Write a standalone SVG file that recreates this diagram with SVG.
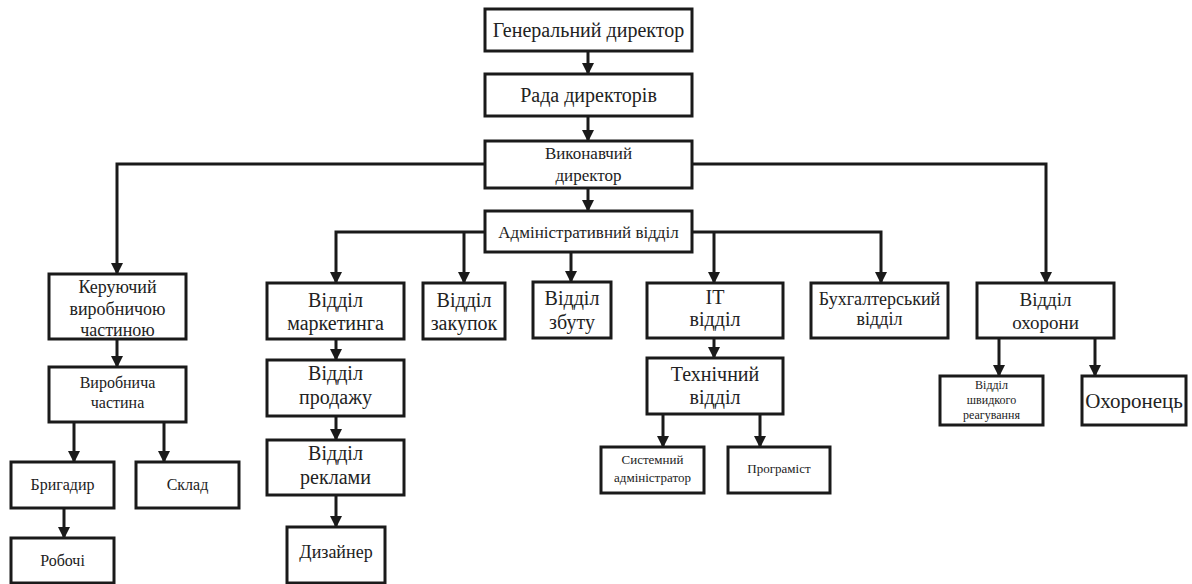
<svg xmlns="http://www.w3.org/2000/svg" width="1192" height="584" viewBox="0 0 1192 584">
<defs>
<style>
.b{fill:#fff;stroke:#1a1a1a;stroke-width:3}
.c{fill:none;stroke:#1a1a1a;stroke-width:3;marker-end:url(#ah)}
text{fill:#222;text-anchor:middle}
</style>
<marker id="ah" markerUnits="userSpaceOnUse" markerWidth="12" markerHeight="14" refX="11" refY="6" orient="auto">
<path d="M0,0 L12,6 L0,12 z" fill="#1a1a1a"/>
</marker>
</defs>
<rect width="1192" height="584" fill="#fff"/>
<g id="connectors">
<path class="c" d="M588,51 V74"/>
<path class="c" d="M588,116 V141"/>
<path class="c" d="M588,188 V211"/>
<path class="c" d="M485,164 H117 V274"/>
<path class="c" d="M692,164 H1046 V283"/>
<path class="c" d="M485,232 H336 V283"/>
<path class="c" d="M464,232 V283"/>
<path class="c" d="M571,252 V282"/>
<path class="c" d="M692,232 H881 V283"/>
<path class="c" d="M714,232 V283"/>
<path class="c" d="M117,339 V367"/>
<path class="c" d="M74,422 V462"/>
<path class="c" d="M164,422 V462"/>
<path class="c" d="M64,508 V538"/>
<path class="c" d="M336,339 V360"/>
<path class="c" d="M336,416 V440"/>
<path class="c" d="M336,495 V527"/>
<path class="c" d="M714,338 V358"/>
<path class="c" d="M663,414 V447"/>
<path class="c" d="M760,414 V447"/>
<path class="c" d="M999,338 V376"/>
<path class="c" d="M1095,338 V376"/>
</g>
<g font-family="Liberation Serif, Tinos, Times New Roman, DejaVu Serif, serif">
<g id="gen"><rect class="b" x="485" y="9" width="207" height="42"/><text x="588.5" y="37" font-size="20">Генеральний директор</text></g>
<g id="rada"><rect class="b" x="485" y="74" width="207" height="42"/><text x="588.5" y="102" font-size="20">Рада директорів</text></g>
<g id="vykon"><rect class="b" x="485" y="141" width="207" height="47"/><text x="588.5" y="159" font-size="17">Виконавчий</text><text x="588.5" y="181" font-size="17">директор</text></g>
<g id="admin"><rect class="b" x="485" y="211" width="207" height="41"/><text x="588.5" y="238" font-size="17">Адміністративний відділ</text></g>
<g id="keruy"><rect class="b" x="49" y="274" width="137" height="65"/><text x="117.5" y="293" font-size="18">Керуючий</text><text x="117.5" y="315" font-size="18">виробничою</text><text x="117.5" y="336" font-size="18">частиною</text></g>
<g id="vyrob"><rect class="b" x="49" y="367" width="137" height="55"/><text x="117.5" y="388" font-size="16">Виробнича</text><text x="117.5" y="408" font-size="16">частина</text></g>
<g id="bryg"><rect class="b" x="11" y="462" width="103" height="46"/><text x="62.5" y="490" font-size="16">Бригадир</text></g>
<g id="sklad"><rect class="b" x="136" y="462" width="103" height="46"/><text x="187.5" y="490" font-size="16">Склад</text></g>
<g id="roboch"><rect class="b" x="11" y="538" width="103" height="45"/><text x="62.5" y="566" font-size="16">Робочі</text></g>
<g id="market"><rect class="b" x="267" y="283" width="137" height="56"/><text x="335.5" y="307" font-size="20">Відділ</text><text x="335.5" y="330" font-size="20">маркетинга</text></g>
<g id="prodazh"><rect class="b" x="267" y="360" width="137" height="56"/><text x="335.5" y="380" font-size="20">Відділ</text><text x="335.5" y="404" font-size="20">продажу</text></g>
<g id="reklama"><rect class="b" x="267" y="440" width="137" height="55"/><text x="335.5" y="460" font-size="20">Відділ</text><text x="335.5" y="484" font-size="20">реклами</text></g>
<g id="dyzain"><rect class="b" x="287" y="527" width="98" height="56"/><text x="336" y="558" font-size="18">Дизайнер</text></g>
<g id="zakup"><rect class="b" x="423" y="283" width="82" height="56"/><text x="464" y="307" font-size="20">Відділ</text><text x="464" y="330" font-size="20">закупок</text></g>
<g id="zbut"><rect class="b" x="533" y="282" width="78" height="56"/><text x="572" y="305" font-size="20">Відділ</text><text x="572" y="329" font-size="20">збуту</text></g>
<g id="it"><rect class="b" x="647" y="283" width="136" height="55"/><text x="715" y="304" font-size="20">IT</text><text x="715" y="326" font-size="20">відділ</text></g>
<g id="buh"><rect class="b" x="811" y="283" width="137" height="55"/><text x="879.5" y="305" font-size="18">Бухгалтерський</text><text x="879.5" y="325" font-size="18">відділ</text></g>
<g id="tech"><rect class="b" x="647" y="358" width="136" height="56"/><text x="715" y="381" font-size="20">Технічний</text><text x="715" y="404" font-size="20">відділ</text></g>
<g id="sysadm"><rect class="b" x="601" y="447" width="103" height="46"/><text x="652.5" y="464" font-size="13">Системний</text><text x="652.5" y="482" font-size="13">адміністратор</text></g>
<g id="prog"><rect class="b" x="728" y="447" width="102" height="46"/><text x="779" y="473" font-size="13">Програміст</text></g>
<g id="okhor"><rect class="b" x="977" y="283" width="137" height="55"/><text x="1045.5" y="306" font-size="19">Відділ</text><text x="1045.5" y="329" font-size="19">охорони</text></g>
<g id="shvyd"><rect class="b" x="940" y="376" width="103" height="49"/><text x="991.5" y="389" font-size="12">Відділ</text><text x="991.5" y="404" font-size="12">швидкого</text><text x="991.5" y="419" font-size="12">реагування</text></g>
<g id="okhoronets"><rect class="b" x="1082" y="376" width="104" height="49"/><text x="1134" y="408" font-size="21">Охоронець</text></g>
</g>
</svg>
